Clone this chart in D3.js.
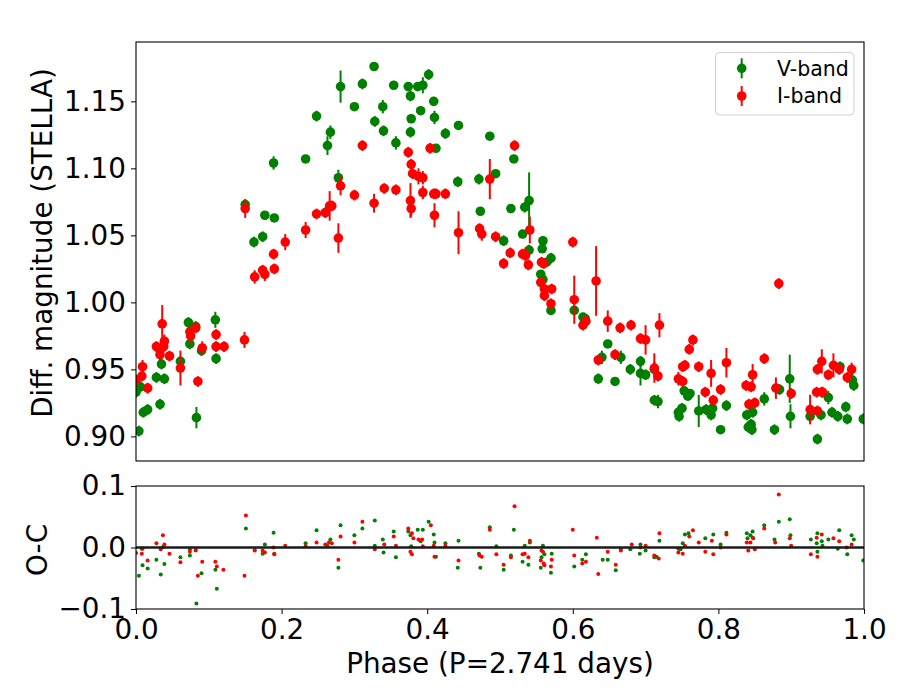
<!DOCTYPE html>
<html lang="en">
  <meta charset="utf-8">
  <style type="text/css">
    body { margin: 0; background: white; }
    text { font-family: 'DejaVu Sans', sans-serif; fill: black; }
  </style>
  <script src="https://d3js.org/d3.v7.min.js"></script>
  <body>
    <div id="Chart"></div>
    <script type="text/javascript">
      // V-band light curve
      var vPhase = [0.000, 0.004, 0.006, 0.010, 0.016, 0.028, 0.033, 0.035, 0.039, 0.061,
                    0.072, 0.074, 0.082, 0.083, 0.090, 0.109, 0.110, 0.150, 0.162, 0.174,
                    0.177, 0.190, 0.189, 0.233, 0.248, 0.263, 0.267, 0.278, 0.281, 0.300,
                    0.311, 0.327, 0.328, 0.339, 0.340, 0.354, 0.357, 0.374, 0.377, 0.377,
                    0.378, 0.387, 0.391, 0.394, 0.402, 0.409, 0.410, 0.412, 0.425, 0.442,
                    0.443, 0.471, 0.473, 0.486, 0.494, 0.505, 0.515, 0.519, 0.531, 0.534,
                    0.540, 0.540, 0.558, 0.559, 0.564, 0.570, 0.556, 0.559, 0.570, 0.602,
                    0.614, 0.617, 0.635, 0.640, 0.648, 0.658, 0.666, 0.679, 0.693, 0.693,
                    0.700, 0.712, 0.712, 0.717, 0.745, 0.750, 0.746, 0.753, 0.758, 0.761,
                    0.773, 0.783, 0.790, 0.792, 0.803, 0.811, 0.839, 0.841, 0.845, 0.846,
                    0.847, 0.863, 0.877, 0.884, 0.898, 0.899, 0.926, 0.936, 0.941, 0.942,
                    0.951, 0.956, 0.964, 0.967, 0.975, 0.977, 0.984, 0.986, 0.999];
      var vMag = [0.933, 0.904, 0.937, 0.918, 0.920, 0.944, 0.924, 0.954, 0.943, 0.956,
                  0.985, 0.969, 0.982, 0.914, 0.964, 0.987, 0.958, 1.073, 1.045, 1.049,
                  1.065, 1.063, 1.104, 1.107, 1.139, 1.117, 1.127, 1.093, 1.161, 1.146,
                  1.163, 1.176, 1.135, 1.146, 1.128, 1.162, 1.119, 1.161, 1.154, 1.127,
                  1.137, 1.161, 1.143, 1.162, 1.170, 1.150, 1.138, 1.115, 1.126, 1.090,
                  1.132, 1.092, 1.068, 1.124, 1.096, 1.046, 1.070, 1.107, 1.051, 1.071,
                  1.076, 1.039, 1.040, 1.046, 1.030, 1.033, 1.021, 1.017, 0.994, 0.994,
                  0.989, 0.988, 0.943, 0.959, 0.969, 0.941, 0.959, 0.950, 0.956, 0.947,
                  0.946, 0.950, 0.927, 0.926, 0.918, 0.921, 0.915, 0.934, 0.930, 0.932,
                  0.919, 0.920, 0.916, 0.921, 0.905, 0.923, 0.916, 0.907, 0.909, 0.905,
                  0.918, 0.928, 0.905, 0.935, 0.943, 0.915, 0.915, 0.898, 0.916, 0.933,
                  0.929, 0.918, 0.915, 0.952, 0.922, 0.913, 0.942, 0.938, 0.913];
      var vErr = [0.004, 0.004, 0.004, 0.004, 0.004, 0.004, 0.004, 0.004, 0.004, 0.004,
                  0.004, 0.004, 0.004, 0.008, 0.004, 0.006, 0.004, 0.004, 0.004, 0.004,
                  0.003, 0.003, 0.005, 0.003, 0.004, 0.007, 0.005, 0.006, 0.012, 0.003,
                  0.004, 0.003, 0.004, 0.005, 0.004, 0.003, 0.005, 0.003, 0.004, 0.004,
                  0.003, 0.003, 0.003, 0.006, 0.004, 0.003, 0.005, 0.003, 0.004, 0.004,
                  0.003, 0.004, 0.003, 0.003, 0.003, 0.004, 0.003, 0.003, 0.003, 0.004,
                  0.021, 0.004, 0.003, 0.003, 0.003, 0.004, 0.003, 0.004, 0.003, 0.003,
                  0.003, 0.003, 0.004, 0.005, 0.003, 0.003, 0.005, 0.004, 0.004, 0.009,
                  0.004, 0.006, 0.004, 0.005, 0.004, 0.004, 0.004, 0.003, 0.003, 0.003,
                  0.012, 0.004, 0.004, 0.004, 0.003, 0.004, 0.004, 0.004, 0.004, 0.004,
                  0.004, 0.005, 0.004, 0.004, 0.018, 0.009, 0.004, 0.004, 0.004, 0.004,
                  0.005, 0.004, 0.004, 0.004, 0.004, 0.004, 0.005, 0.004, 0.004];

      // I-band light curve
      var iPhase = [0.000, 0.008, 0.009, 0.016, 0.028, 0.033, 0.036, 0.038, 0.039, 0.046,
                    0.061, 0.074, 0.075, 0.082, 0.085, 0.091, 0.110, 0.110, 0.121, 0.149,
                    0.150, 0.163, 0.174, 0.177, 0.190, 0.189, 0.205, 0.233, 0.248, 0.260,
                    0.266, 0.269, 0.278, 0.281, 0.300, 0.311, 0.327, 0.341, 0.357, 0.374,
                    0.377, 0.378, 0.378, 0.380, 0.388, 0.394, 0.394, 0.404, 0.409, 0.412,
                    0.410, 0.425, 0.443, 0.472, 0.475, 0.486, 0.494, 0.505, 0.514, 0.520,
                    0.531, 0.535, 0.539, 0.541, 0.557, 0.560, 0.556, 0.561, 0.571, 0.561,
                    0.570, 0.600, 0.602, 0.614, 0.618, 0.632, 0.635, 0.648, 0.658, 0.665,
                    0.680, 0.693, 0.700, 0.712, 0.717, 0.719, 0.745, 0.751, 0.751, 0.754,
                    0.760, 0.765, 0.773, 0.782, 0.790, 0.793, 0.803, 0.811, 0.838, 0.842,
                    0.845, 0.847, 0.850, 0.863, 0.879, 0.883, 0.900, 0.926, 0.935, 0.936,
                    0.936, 0.942, 0.943, 0.951, 0.958, 0.966, 0.977, 0.983];
      var iMag = [0.942, 0.945, 0.952, 0.936, 0.967, 0.961, 0.984, 0.967, 0.971, 0.960,
                  0.951, 0.978, 0.975, 0.981, 0.941, 0.966, 0.976, 0.967, 0.967, 0.972,
                  1.070, 1.019, 1.024, 1.021, 1.025, 1.036, 1.045, 1.054, 1.066, 1.067,
                  1.072, 1.072, 1.048, 1.087, 1.080, 1.117, 1.074, 1.085, 1.084, 1.112,
                  1.076, 1.070, 1.103, 1.096, 1.094, 1.093, 1.082, 1.115, 1.081, 1.081,
                  1.065, 1.081, 1.052, 1.055, 1.051, 1.092, 1.049, 1.029, 1.037, 1.117,
                  1.036, 1.035, 1.028, 1.054, 1.030, 1.029, 1.015, 1.010, 1.010, 1.005,
                  0.999, 1.045, 1.002, 0.983, 0.986, 1.016, 0.957, 0.986, 0.961, 0.981,
                  0.983, 0.973, 0.972, 0.951, 0.945, 0.983, 0.943, 0.941, 0.952, 0.953,
                  0.965, 0.972, 0.952, 0.933, 0.947, 0.927, 0.935, 0.955, 0.938, 0.924,
                  0.937, 0.946, 0.925, 0.958, 0.936, 1.014, 0.932, 0.920, 0.933, 0.919,
                  0.950, 0.956, 0.933, 0.946, 0.953, 0.950, 0.944, 0.950];
      var iErr = [0.004, 0.004, 0.005, 0.004, 0.004, 0.004, 0.014, 0.004, 0.005, 0.004,
                  0.013, 0.004, 0.006, 0.004, 0.004, 0.005, 0.004, 0.004, 0.004, 0.006,
                  0.007, 0.005, 0.004, 0.005, 0.004, 0.004, 0.006, 0.006, 0.004, 0.004,
                  0.011, 0.004, 0.011, 0.007, 0.004, 0.004, 0.007, 0.004, 0.004, 0.004,
                  0.013, 0.006, 0.004, 0.004, 0.006, 0.005, 0.005, 0.004, 0.004, 0.004,
                  0.009, 0.004, 0.016, 0.004, 0.005, 0.015, 0.004, 0.004, 0.004, 0.004,
                  0.004, 0.006, 0.004, 0.010, 0.004, 0.004, 0.004, 0.004, 0.004, 0.004,
                  0.004, 0.004, 0.018, 0.004, 0.004, 0.026, 0.004, 0.008, 0.004, 0.004,
                  0.004, 0.004, 0.011, 0.011, 0.004, 0.009, 0.005, 0.004, 0.004, 0.004,
                  0.004, 0.004, 0.004, 0.004, 0.010, 0.004, 0.004, 0.011, 0.004, 0.004,
                  0.004, 0.008, 0.004, 0.004, 0.008, 0.004, 0.004, 0.011, 0.004, 0.004,
                  0.004, 0.009, 0.004, 0.004, 0.009, 0.004, 0.004, 0.005];

      // O-C residuals
      var vOcPhase = [0.004, 0.009, 0.016, 0.008, 0.028, 0.034, 0.039, 0.037, 0.061, 0.074,
                      0.074, 0.082, 0.083, 0.090, 0.109, 0.111, 0.151, 0.163, 0.174, 0.177,
                      0.189, 0.190, 0.233, 0.248, 0.267, 0.263, 0.278, 0.281, 0.300, 0.311,
                      0.328, 0.328, 0.339, 0.340, 0.354, 0.357, 0.374, 0.377, 0.378, 0.387,
                      0.391, 0.394, 0.402, 0.409, 0.410, 0.412, 0.425, 0.443, 0.442, 0.471,
                      0.473, 0.486, 0.495, 0.505, 0.515, 0.519, 0.531, 0.534, 0.539, 0.541,
                      0.556, 0.557, 0.559, 0.561, 0.570, 0.571, 0.602, 0.613, 0.618, 0.641,
                      0.648, 0.659, 0.666, 0.679, 0.692, 0.693, 0.700, 0.712, 0.715, 0.719,
                      0.745, 0.748, 0.751, 0.754, 0.759, 0.782, 0.793, 0.803, 0.811, 0.839,
                      0.840, 0.844, 0.847, 0.848, 0.863, 0.877, 0.883, 0.898, 0.899, 0.927,
                      0.935, 0.936, 0.936, 0.942, 0.943, 0.951, 0.964, 0.966, 0.977, 0.983,
                      0.986, 0.999];
      var vOc = [-0.046, -0.029, -0.034, -0.002, -0.020, -0.044, -0.027, 0.001, -0.016, -0.013,
                 -0.003, -0.005, -0.091, -0.042, -0.036, -0.067, 0.031, -0.004, -0.010, 0.005,
                 0.024, -0.010, 0.007, 0.028, 0.013, 0.003, -0.033, 0.036, 0.020, 0.031,
                 0.044, 0.003, 0.013, -0.008, 0.026, -0.016, 0.026, 0.020, 0.002, 0.029,
                 0.010, 0.029, 0.042, 0.021, 0.008, -0.015, 0.007, 0.011, -0.033, -0.010,
                 -0.033, 0.033, 0.002, -0.036, -0.013, 0.029, -0.023, 0.003, -0.028, 0.008,
                 -0.033, -0.016, 0.003, -0.011, -0.041, -0.010, -0.031, -0.020, -0.011, -0.020,
                 -0.020, -0.037, -0.003, -0.003, -0.010, 0.005, -0.005, -0.016, -0.015, 0.011,
                 -0.002, -0.003, 0.007, 0.021, 0.023, 0.015, 0.021, 0.005, 0.024, 0.023,
                 0.015, 0.020, 0.026, 0.015, 0.036, 0.013, 0.042, 0.046, 0.020, 0.013,
                 0.007, 0.023, -0.007, 0.010, 0.003, 0.013, -0.002, 0.028, -0.011, 0.020,
                 0.013, -0.021];
      var iOcPhase = [0.000, 0.008, 0.009, 0.016, 0.028, 0.034, 0.037, 0.039, 0.046, 0.061,
                      0.074, 0.082, 0.085, 0.091, 0.109, 0.111, 0.120, 0.149, 0.151, 0.163,
                      0.174, 0.177, 0.189, 0.190, 0.205, 0.233, 0.248, 0.260, 0.265, 0.269,
                      0.278, 0.281, 0.300, 0.311, 0.328, 0.341, 0.354, 0.357, 0.374, 0.377,
                      0.379, 0.379, 0.381, 0.388, 0.393, 0.394, 0.405, 0.409, 0.410, 0.425,
                      0.443, 0.472, 0.475, 0.486, 0.495, 0.505, 0.515, 0.520, 0.531, 0.534,
                      0.539, 0.541, 0.556, 0.557, 0.559, 0.560, 0.561, 0.570, 0.571, 0.600,
                      0.602, 0.613, 0.618, 0.633, 0.635, 0.648, 0.659, 0.666, 0.681, 0.693,
                      0.700, 0.712, 0.718, 0.719, 0.745, 0.751, 0.754, 0.760, 0.765, 0.773,
                      0.782, 0.791, 0.793, 0.803, 0.811, 0.839, 0.841, 0.844, 0.847, 0.850,
                      0.863, 0.878, 0.883, 0.898, 0.900, 0.927, 0.935, 0.936, 0.942, 0.958,
                      0.966, 0.976, 0.983];
      var iOc = [-0.009, -0.010, -0.002, -0.021, 0.007, -0.003, 0.020, 0.005, -0.010, -0.024,
                 -0.007, -0.004, -0.046, -0.023, -0.023, -0.031, -0.036, -0.046, 0.052, -0.005,
                 -0.005, -0.008, 0.000, -0.011, 0.003, 0.002, 0.008, 0.005, 0.008, 0.007,
                 -0.020, 0.018, 0.008, 0.042, -0.003, 0.005, 0.018, 0.003, 0.031, -0.007,
                 -0.011, 0.023, 0.015, 0.013, 0.013, 0.002, 0.036, 0.003, -0.015, 0.003,
                 -0.021, -0.013, -0.015, 0.029, -0.011, -0.028, -0.016, 0.067, -0.011, -0.010,
                 -0.016, 0.011, -0.021, -0.005, -0.007, -0.026, -0.029, -0.031, -0.020, 0.029,
                 -0.013, -0.026, -0.023, 0.016, -0.043, -0.007, -0.028, -0.005, 0.005, 0.000,
                 0.003, -0.013, -0.018, 0.023, -0.008, -0.010, 0.003, 0.018, 0.028, 0.008,
                 -0.007, 0.011, -0.011, 0.000, 0.021, 0.008, -0.005, 0.008, 0.016, -0.003,
                 0.031, 0.008, 0.086, 0.015, 0.003, -0.011, 0.016, -0.015, 0.021, 0.015,
                 0.010, 0.000, 0.005];

      var xTicks = [0.0, 0.2, 0.4, 0.6, 0.8, 1.0];
      var magTicks = [0.90, 0.95, 1.00, 1.05, 1.10, 1.15];
      var ocTicks = [-0.1, 0.0, 0.1];
      var bands = ['V-band', 'I-band'];
      var bandColors = ['green', 'red'];

      var W = 900, H = 700;
      var left = 136, right = 864;
      var topT = 42, topB = 461;
      var botT = 486, botB = 609;
      var fs = 27.8;

      var svg = d3.select("#Chart").append("svg")
          .attr("width", W)
          .attr("height", H);

      var x = d3.scaleLinear().domain([0, 1]).range([left, right]);
      var yMag = d3.scaleLinear().domain([0.88165, 1.19428]).range([topB, topT]);
      var yOc = d3.scaleLinear().domain([-0.1, 0.1]).range([botB, botT]);

      // draws one band with errorbars
      function drawBand(g, ph, mag, err, color) {
        var pts = ph.map((p, i) => ({p: p, m: mag[i], e: err[i]}));
        g.selectAll()
          .data(pts)
          .enter()
          .append("line")
            .attr("x1", (d) => x(d.p))
            .attr("x2", (d) => x(d.p))
            .attr("y1", (d) => yMag(d.m - d.e))
            .attr("y2", (d) => yMag(d.m + d.e))
            .attr("stroke", color)
            .attr("stroke-width", 2);
        g.selectAll()
          .data(pts)
          .enter()
          .append("circle")
            .attr("cx", (d) => x(d.p))
            .attr("cy", (d) => yMag(d.m))
            .attr("r", 4.8)
            .attr("fill", color);
      }

      var topPanel = svg.append("g");
      topPanel.append("rect")
          .attr("x", left).attr("y", topT)
          .attr("width", right - left).attr("height", topB - topT)
          .attr("fill", "white");
      svg.append("clipPath").attr("id", "clipTop")
        .append("rect")
          .attr("x", left).attr("y", topT)
          .attr("width", right - left).attr("height", topB - topT);
      var marks = topPanel.append("g").attr("clip-path", "url(#clipTop)");
      drawBand(marks.append("g"), vPhase, vMag, vErr, bandColors[0]);
      drawBand(marks.append("g"), iPhase, iMag, iErr, bandColors[1]);

      topPanel.append("g")
          .attr("transform", "translate(" + left + ",0)")
          .call(d3.axisLeft(yMag).tickValues(magTicks).tickFormat(d3.format(".2f"))
                .tickSize(5).tickPadding(5).tickSizeOuter(0))
          .call((a) => a.select(".domain").remove())
          .selectAll("text")
            .style("font-size", fs + "px")
            .style("font-family", "'DejaVu Sans'");

      topPanel.append("rect")
          .attr("x", left).attr("y", topT)
          .attr("width", right - left).attr("height", topB - topT)
          .attr("fill", "none").attr("stroke", "black").attr("stroke-width", 1.1);

      // legend
      var leg = topPanel.append("g");
      leg.append("rect")
          .attr("x", 715.5).attr("y", 52.5)
          .attr("width", 138.5).attr("height", 62.5)
          .attr("rx", 4)
          .attr("fill", "white").attr("fill-opacity", 0.8)
          .attr("stroke", "#d0d0d0").attr("stroke-width", 1);
      bands.forEach((b, i) => {
        var cy = 68.3 + i * 27.7;
        leg.append("line")
            .attr("x1", 741.7).attr("x2", 741.7)
            .attr("y1", cy - 10).attr("y2", cy + 10)
            .attr("stroke", bandColors[i]).attr("stroke-width", 2);
        leg.append("circle")
            .attr("cx", 741.7).attr("cy", cy).attr("r", 4.8)
            .attr("fill", bandColors[i]);
        leg.append("text")
            .attr("x", 777).attr("y", cy + 7.3)
            .style("font-size", "20.5px")
            .text(b);
      });

      // O-C panel
      var botPanel = svg.append("g");
      svg.append("clipPath").attr("id", "clipBot")
        .append("rect")
          .attr("x", left).attr("y", botT)
          .attr("width", right - left).attr("height", botB - botT);
      var res = botPanel.append("g").attr("clip-path", "url(#clipBot)");
      res.selectAll()
        .data(vOcPhase.map((p, i) => [p, vOc[i]]))
        .enter()
        .append("circle")
          .attr("cx", (d) => x(d[0]))
          .attr("cy", (d) => yOc(d[1]))
          .attr("r", 2)
          .attr("fill", bandColors[0]);
      res.selectAll()
        .data(iOcPhase.map((p, i) => [p, iOc[i]]))
        .enter()
        .append("circle")
          .attr("cx", (d) => x(d[0]))
          .attr("cy", (d) => yOc(d[1]))
          .attr("r", 2)
          .attr("fill", bandColors[1]);
      res.append("line")
          .attr("x1", left).attr("x2", right)
          .attr("y1", yOc(0)).attr("y2", yOc(0))
          .attr("stroke", "#1a1a1a").attr("stroke-width", 2.6);

      botPanel.append("g")
          .attr("transform", "translate(" + left + ",0)")
          .call(d3.axisLeft(yOc).tickValues(ocTicks).tickFormat((d) => d3.format(".1f")(d).replace("-", "\u2212"))
                .tickSize(5).tickPadding(5).tickSizeOuter(0))
          .call((a) => a.select(".domain").remove())
          .selectAll("text")
            .style("font-size", fs + "px")
            .style("font-family", "'DejaVu Sans'");

      botPanel.append("g")
          .attr("transform", "translate(0," + botB + ")")
          .call(d3.axisBottom(x).tickValues(xTicks).tickFormat(d3.format(".1f"))
                .tickSize(5).tickPadding(5).tickSizeOuter(0))
          .call((a) => a.select(".domain").remove())
          .selectAll("text")
            .style("font-size", fs + "px")
            .style("font-family", "'DejaVu Sans'");

      botPanel.append("rect")
          .attr("x", left).attr("y", botT)
          .attr("width", right - left).attr("height", botB - botT)
          .attr("fill", "none").attr("stroke", "black").attr("stroke-width", 1.1);

      // axis labels
      svg.append("text")
          .attr("transform", "translate(52,243)rotate(-90)")
          .attr("text-anchor", "middle")
          .style("font-size", fs + "px")
          .text("Diff. magnitude (STELLA)");
      svg.append("text")
          .attr("transform", "translate(47,550)rotate(-90)")
          .attr("text-anchor", "middle")
          .style("font-size", fs + "px")
          .text("O-C");
      svg.append("text")
          .attr("x", (left + right) / 2)
          .attr("y", 673)
          .attr("text-anchor", "middle")
          .style("font-size", fs + "px")
          .text("Phase (P=2.741 days)");
    </script>
  </body>
</html>
